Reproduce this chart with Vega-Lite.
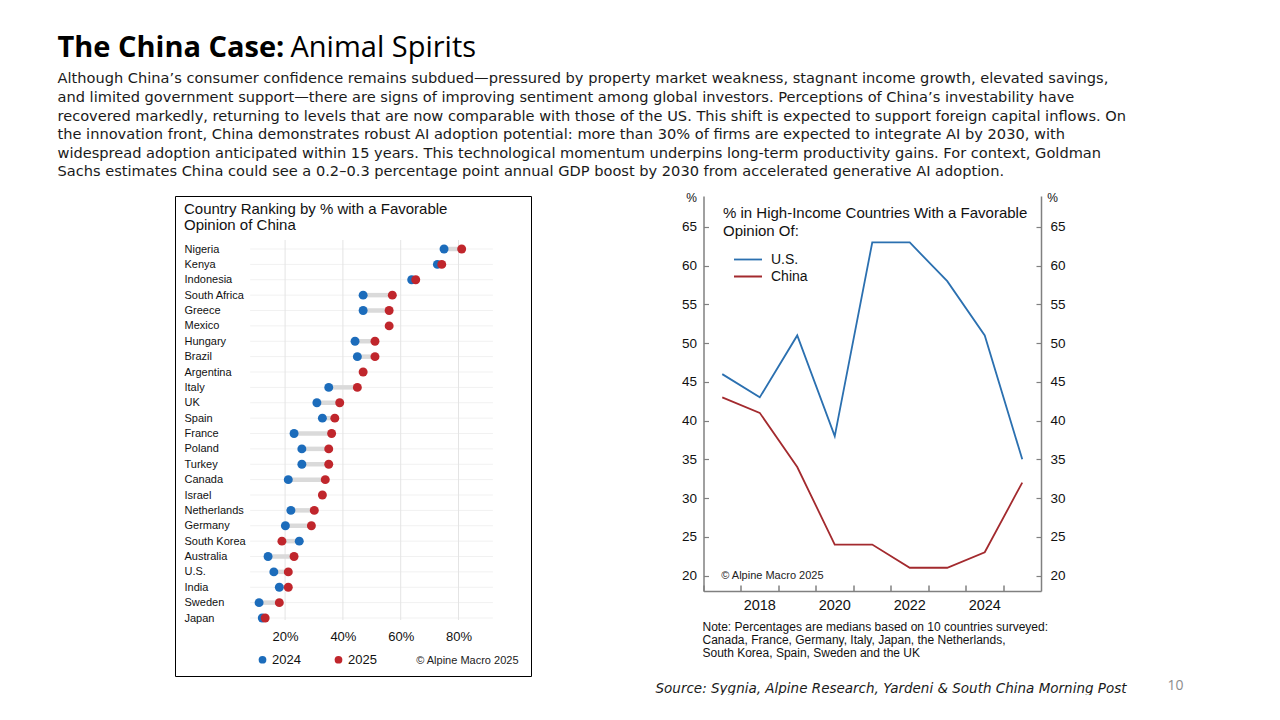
{
  "$schema": "https://vega.github.io/schema/vega-lite/v6.json",
  "background": "white",
  "padding": {"left": 57, "top": 34, "right": 5, "bottom": 0},
  "config": {
    "view": {"stroke": null},
    "axis": {"grid": false, "labelFont": "Liberation Sans", "titleFont": "Liberation Sans"},
    "legend": {"labelFont": "Liberation Sans", "titleFont": "Liberation Sans"}
  },
  "title": {
    "text": "Animal Spirits",
    "orient": "top",
    "anchor": "start",
    "frame": "bounds",
    "dx": 233,
    "offset": -29,
    "font": "Open Sans",
    "fontSize": 29,
    "fontWeight": "normal",
    "color": "#000000"
  },
  "vconcat": [
    {
      "title": {
        "text": "The China Case:",
        "subtitle": [
          "Although China’s consumer confidence remains subdued—pressured by property market weakness, stagnant income growth, elevated savings,",
          "and limited government support—there are signs of improving sentiment among global investors. Perceptions of China’s investability have",
          "recovered markedly, returning to levels that are now comparable with those of the US. This shift is expected to support foreign capital inflows. On",
          "the innovation front, China demonstrates robust AI adoption potential: more than 30% of firms are expected to integrate AI by 2030, with",
          "widespread adoption anticipated within 15 years. This technological momentum underpins long-term productivity gains. For context, Goldman",
          "Sachs estimates China could see a 0.2–0.3 percentage point annual GDP boost by 2030 from accelerated generative AI adoption."
        ],
        "anchor": "start",
        "frame": "bounds",
        "dx": -117,
        "offset": 12,
        "font": "Open Sans",
        "fontSize": 29,
        "fontWeight": "bold",
        "color": "#000000",
        "subtitleFont": "DejaVu Sans",
        "subtitleFontSize": 14.6,
        "subtitleColor": "#1a1a1a",
        "subtitleLineHeight": 18.6,
        "subtitlePadding": 8
      },
      "bounds": "flush",
      "spacing": 172.5,
      "resolve": {"scale": {"color": "independent"}, "legend": {"color": "independent"}},
      "hconcat": [
        {
          "width": 356,
          "height": 480,
          "view": {"stroke": "#000000", "strokeWidth": 1},
          "title": {
            "text": ["Country Ranking by % with a Favorable", "Opinion of China"],
            "anchor": "start",
            "frame": "group",
            "offset": -37,
            "baseline": "top",
            "dx": 9,
            "font": "Liberation Sans",
            "fontSize": 15,
            "fontWeight": "normal",
            "lineHeight": 16.5,
            "color": "#111111"
          },
          "data": {
            "values": [
              {"country": "Nigeria", "2024": 75.0, "2025": 81.1},
              {"country": "Kenya", "2024": 72.7, "2025": 74.2},
              {"country": "Indonesia", "2024": 63.8, "2025": 65.2},
              {"country": "South Africa", "2024": 47.0, "2025": 57.1},
              {"country": "Greece", "2024": 47.0, "2025": 56.0},
              {"country": "Mexico", "2024": null, "2025": 56.0},
              {"country": "Hungary", "2024": 44.2, "2025": 51.1},
              {"country": "Brazil", "2024": 45.0, "2025": 51.1},
              {"country": "Argentina", "2024": null, "2025": 47.0},
              {"country": "Italy", "2024": 35.1, "2025": 45.0},
              {"country": "UK", "2024": 31.0, "2025": 38.9},
              {"country": "Spain", "2024": 32.9, "2025": 37.2},
              {"country": "France", "2024": 23.1, "2025": 36.1},
              {"country": "Poland", "2024": 25.8, "2025": 35.1},
              {"country": "Turkey", "2024": 25.8, "2025": 35.1},
              {"country": "Canada", "2024": 21.1, "2025": 33.9},
              {"country": "Israel", "2024": null, "2025": 32.9},
              {"country": "Netherlands", "2024": 22.0, "2025": 30.1},
              {"country": "Germany", "2024": 20.1, "2025": 29.1},
              {"country": "South Korea", "2024": 24.9, "2025": 18.9},
              {"country": "Australia", "2024": 14.1, "2025": 23.1},
              {"country": "U.S.", "2024": 16.1, "2025": 21.1},
              {"country": "India", "2024": 18.0, "2025": 21.1},
              {"country": "Sweden", "2024": 11.0, "2025": 18.0},
              {"country": "Japan", "2024": 12.1, "2025": 13.1}
            ]
          },
          "layer": [
            {
              "mark": {"type": "rule", "color": "#f1f1f1", "strokeWidth": 1},
              "encoding": {
                "x": {
                  "datum": 7.9,
                  "type": "quantitative",
                  "scale": {"domain": [0, 100], "range": [52.3, 341.3], "nice": false, "zero": false},
                  "axis": {
                    "orient": "bottom",
                    "offset": -46,
                    "values": [20, 40, 60, 80],
                    "labelExpr": "datum.value + '%'",
                    "ticks": false,
                    "domain": false,
                    "labelPadding": 0,
                    "labelFont": "Liberation Sans",
                    "labelFontSize": 13,
                    "labelColor": "#111111",
                    "title": "© Alpine Macro 2025",
                    "titleX": 343,
                    "titleY": 30,
                    "titleAlign": "right",
                    "titleAnchor": "end",
                    "titleBaseline": "middle",
                    "titleFontSize": 11,
                    "titleFontWeight": "normal",
                    "titleColor": "#222222"
                  }
                },
                "x2": {"datum": 91.9},
                "y": {
                  "field": "country",
                  "type": "nominal",
                  "sort": null,
                  "scale": {"type": "point", "range": [53, 422], "padding": 0},
                  "axis": {
                    "orient": "left",
                    "offset": -9,
                    "labelAlign": "left",
                    "labelBaseline": "middle",
                    "labelPadding": 0,
                    "ticks": false,
                    "domain": false,
                    "labelFont": "Liberation Sans",
                    "labelFontSize": 11,
                    "labelColor": "#111111",
                    "title": "Source: Sygnia, Alpine Research, Yardeni & South China Morning Post",
                    "titleAngle": 0,
                    "titleX": 471,
                    "titleY": 492,
                    "titleAlign": "left",
                    "titleAnchor": "start",
                    "titleBaseline": "middle",
                    "titleFont": "DejaVu Sans",
                    "titleFontSize": 13.5,
                    "titleFontStyle": "italic",
                    "titleFontWeight": "normal",
                    "titleColor": "#1a1a1a"
                  }
                }
              }
            },
            {
              "data": {"values": [{"g": 20}, {"g": 40}, {"g": 60}, {"g": 80}]},
              "mark": {"type": "rule", "color": "#e4e4e4", "strokeWidth": 1, "yOffset": -9, "y2Offset": 2},
              "encoding": {
                "x": {"field": "g", "type": "quantitative"},
                "y": {"datum": "Nigeria", "type": "nominal"},
                "y2": {"datum": "Japan"}
              }
            },
            {
              "transform": [{"filter": "isValid(datum['2024'])"}],
              "mark": {"type": "rule", "color": "#dadada", "strokeWidth": 4.5},
              "encoding": {
                "x": {"field": "2024", "type": "quantitative"},
                "x2": {"field": "2025"},
                "y": {"field": "country", "type": "nominal", "sort": null}
              }
            },
            {
              "transform": [
                {"fold": ["2024", "2025"], "as": ["year", "value"]},
                {"filter": "isValid(datum.value)"}
              ],
              "mark": {"type": "circle", "size": 80, "opacity": 1},
              "encoding": {
                "x": {"field": "value", "type": "quantitative"},
                "y": {"field": "country", "type": "nominal", "sort": null},
                "color": {
                  "field": "year",
                  "type": "nominal",
                  "scale": {"domain": ["2024", "2025"], "range": ["#1c6cbb", "#c0262c"]},
                  "legend": {
                    "orient": "none",
                    "legendX": 81,
                    "legendY": 457,
                    "direction": "horizontal",
                    "title": null,
                    "padding": 0,
                    "symbolType": "circle",
                    "symbolSize": 60,
                    "symbolStrokeWidth": 0,
                    "labelFont": "Liberation Sans",
                    "labelFontSize": 13,
                    "labelColor": "#111111",
                    "labelOffset": 3,
                    "columnPadding": 31
                  }
                }
              }
            }
          ]
        },
        {
          "width": 337.5,
          "height": 395,
          "view": {"stroke": null},
          "title": {
            "text": ["% in High-Income Countries With a Favorable", "Opinion Of:"],
            "anchor": "start",
            "frame": "group",
            "offset": -48,
            "baseline": "top",
            "dx": 19.5,
            "font": "Liberation Sans",
            "fontSize": 15,
            "fontWeight": "normal",
            "lineHeight": 18,
            "color": "#111111"
          },
          "data": {
            "values": [
              {"year": 2017, "series": "U.S.", "value": 46},
              {"year": 2018, "series": "U.S.", "value": 43},
              {"year": 2019, "series": "U.S.", "value": 51},
              {"year": 2020, "series": "U.S.", "value": 38},
              {"year": 2021, "series": "U.S.", "value": 63},
              {"year": 2022, "series": "U.S.", "value": 63},
              {"year": 2023, "series": "U.S.", "value": 58},
              {"year": 2024, "series": "U.S.", "value": 51},
              {"year": 2025, "series": "U.S.", "value": 35},
              {"year": 2017, "series": "China", "value": 43},
              {"year": 2018, "series": "China", "value": 41},
              {"year": 2019, "series": "China", "value": 34},
              {"year": 2020, "series": "China", "value": 24},
              {"year": 2021, "series": "China", "value": 24},
              {"year": 2022, "series": "China", "value": 21},
              {"year": 2023, "series": "China", "value": 21},
              {"year": 2024, "series": "China", "value": 23},
              {"year": 2025, "series": "China", "value": 32}
            ]
          },
          "layer": [
            {
              "mark": {"type": "line", "strokeWidth": 1.8},
              "encoding": {
                "x": {
                  "field": "year",
                  "type": "ordinal",
                  "bandPosition": 0.5,
                  "scale": {"type": "band", "paddingInner": 0, "paddingOuter": 0},
                  "axis": {
                    "orient": "bottom",
                    "bandPosition": 0,
                    "labelExpr": "datum.value % 2 == 0 ? datum.label : ''",
                    "labelAngle": 0,
                    "labelOverlap": false,
                    "labelFont": "Liberation Sans",
                    "labelFontSize": 14.5,
                    "labelColor": "#111111",
                    "labelPadding": 13,
                    "tickSize": -6,
                    "tickColor": "#808080",
                    "tickWidth": 1.5,
                    "domainColor": "#808080",
                    "domainWidth": 1.5,
                    "title": [
                      "Note: Percentages are medians based on 10 countries surveyed:",
                      "Canada, France, Germany, Italy, Japan, the Netherlands,",
                      "South Korea, Spain, Sweden and the UK"
                    ],
                    "titleX": -1.5,
                    "titleY": 30,
                    "titleAlign": "left",
                    "titleAnchor": "start",
                    "titleBaseline": "top",
                    "titleFont": "Liberation Sans",
                    "titleFontSize": 12,
                    "titleFontWeight": "normal",
                    "titleLineHeight": 13.4,
                    "titleColor": "#111111"
                  }
                },
                "y": {
                  "field": "value",
                  "type": "quantitative",
                  "scale": {"domain": [18, 69], "nice": false, "zero": false},
                  "axis": {
                    "orient": "left",
                    "values": [20, 25, 30, 35, 40, 45, 50, 55, 60, 65],
                    "labelFont": "Liberation Sans",
                    "labelFontSize": 13.5,
                    "labelColor": "#111111",
                    "labelPadding": 12,
                    "tickSize": -5,
                    "tickColor": "#808080",
                    "tickWidth": 1.2,
                    "domainColor": "#808080",
                    "domainWidth": 1.5,
                    "title": "%",
                    "titleAngle": 0,
                    "titleX": -12.5,
                    "titleY": 1,
                    "titleAlign": "center",
                    "titleBaseline": "middle",
                    "titleFontSize": 12,
                    "titleFontWeight": "normal",
                    "titleColor": "#111111"
                  }
                },
                "color": {
                  "field": "series",
                  "type": "nominal",
                  "sort": null,
                  "scale": {"domain": ["U.S.", "China"], "range": ["#2b70b0", "#a32a2e"]},
                  "legend": {
                    "orient": "none",
                    "legendX": 29.5,
                    "legendY": 56,
                    "title": null,
                    "padding": 0,
                    "symbolType": "stroke",
                    "symbolSize": 784,
                    "symbolStrokeWidth": 1.8,
                    "clipHeight": 15,
                    "labelFont": "Liberation Sans",
                    "labelFontSize": 14,
                    "labelColor": "#111111",
                    "labelOffset": 8,
                    "rowPadding": 2
                  }
                }
              }
            },
            {
              "data": {"values": [{"label": "© Alpine Macro 2025"}]},
              "mark": {"type": "text", "align": "left", "baseline": "middle", "font": "Liberation Sans", "fontSize": 11, "color": "#222222", "dx": -1},
              "encoding": {
                "x": {
                  "datum": 2017,
                  "type": "ordinal",
                  "scale": {"type": "band", "domain": [2017, 2018, 2019, 2020, 2021, 2022, 2023, 2024, 2025], "paddingInner": 0, "paddingOuter": 0},
                  "axis": {
                    "orient": "top",
                    "labels": false,
                    "ticks": false,
                    "domain": false,
                    "title": "10",
                    "titleX": 463.5,
                    "titleY": 489,
                    "titleAlign": "left",
                    "titleAnchor": "start",
                    "titleBaseline": "middle",
                    "titleFont": "Open Sans",
                    "titleFontSize": 14,
                    "titleFontWeight": "normal",
                    "titleColor": "#8c8c8c"
                  }
                },
                "y": {
                  "datum": 20,
                  "type": "quantitative",
                  "scale": {"domain": [18, 69], "nice": false, "zero": false},
                  "axis": {
                    "orient": "right",
                    "values": [20, 25, 30, 35, 40, 45, 50, 55, 60, 65],
                    "labelFont": "Liberation Sans",
                    "labelFontSize": 13.5,
                    "labelColor": "#111111",
                    "labelPadding": 14,
                    "tickSize": -5,
                    "tickColor": "#808080",
                    "tickWidth": 1.2,
                    "domainColor": "#808080",
                    "domainWidth": 1.5,
                    "title": "%",
                    "titleAngle": 0,
                    "titleX": 11,
                    "titleY": 1,
                    "titleAlign": "center",
                    "titleBaseline": "middle",
                    "titleFontSize": 12,
                    "titleFontWeight": "normal",
                    "titleColor": "#111111"
                  }
                },
                "text": {"field": "label"}
              }
            }
          ],
          "resolve": {"scale": {"y": "independent", "x": "independent"}}
        }
      ]
    }
  ]
}
